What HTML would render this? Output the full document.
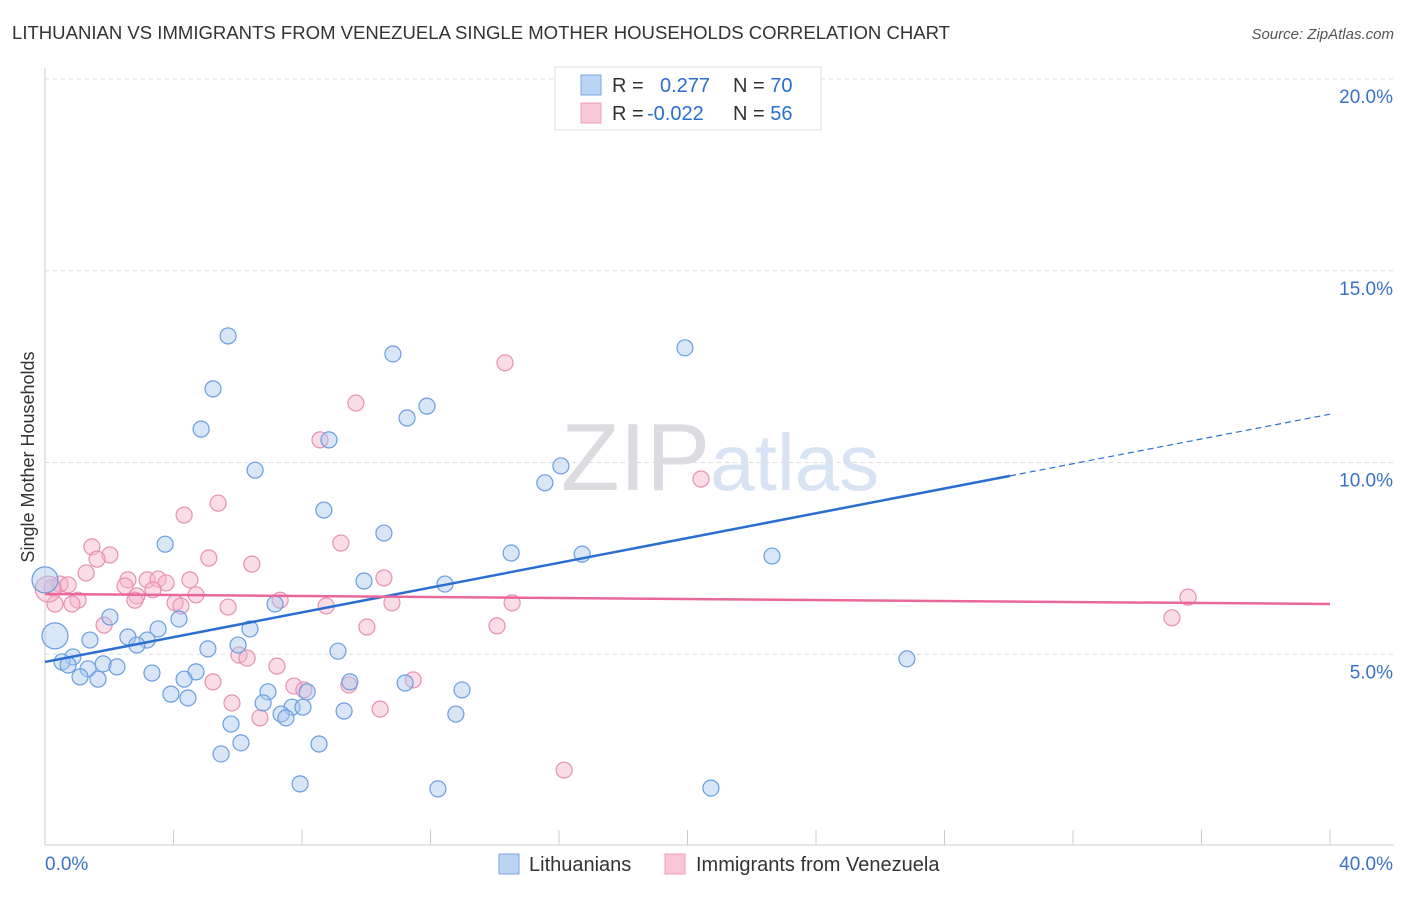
<!DOCTYPE html>
<html><head><meta charset="utf-8">
<style>
body{margin:0;background:#fff;font-family:"Liberation Sans",sans-serif;}
svg text{font-family:"Liberation Sans",sans-serif;}
</style></head>
<body>
<svg id="chart" width="1406" height="892" xmlns="http://www.w3.org/2000/svg">
<text x="12" y="39" font-size="18" fill="#333" textLength="938" lengthAdjust="spacingAndGlyphs">LITHUANIAN VS IMMIGRANTS FROM VENEZUELA SINGLE MOTHER HOUSEHOLDS CORRELATION CHART</text>
<text x="1394" y="39" font-size="15" fill="#555" text-anchor="end" font-style="italic">Source: ZipAtlas.com</text>
<text x="720" y="490" font-size="96" fill="#e8e8ec" text-anchor="middle" font-family="Liberation Serif"><tspan fill="#dcdce0">ZIP</tspan><tspan fill="#d8e4f4" font-family="Liberation Sans" font-size="80">atlas</tspan></text>
<g id="grid"></g>
<g id="axes"></g>
<g id="marks"></g>
<text transform="translate(34,457) rotate(-90)" font-size="18" fill="#333" text-anchor="middle">Single Mother Households</text>
<g>
<rect x="555" y="67" width="266" height="63" fill="#fff" stroke="#ddd"/>
<rect x="581" y="75" width="20" height="20" fill="#bcd4f4" stroke="#7aa6e0"/>
<rect x="581" y="103" width="20" height="20" fill="#f9c8d8" stroke="#ee9cb8"/>
<text x="612" y="92" font-size="20" fill="#333">R = <tspan fill="#2a6fd0" x="660">0.277</tspan><tspan fill="#333" x="733">N = </tspan><tspan fill="#2a6fd0">70</tspan></text>
<text x="612" y="120" font-size="20" fill="#333">R = <tspan fill="#2a6fd0" x="647">-0.022</tspan><tspan fill="#333" x="733">N = </tspan><tspan fill="#2a6fd0">56</tspan></text>
</g>
<g>
<rect x="499" y="854" width="20" height="20" fill="#bcd4f4" stroke="#7aa6e0"/>
<text x="529" y="871" font-size="20" fill="#333">Lithuanians</text>
<rect x="665" y="854" width="20" height="20" fill="#f9c8d8" stroke="#ee9cb8"/>
<text x="696" y="871" font-size="20" fill="#333">Immigrants from Venezuela</text>
</g>
</svg>
<script>
const xTicks=[0,5,10,15,20,25,30,35,40];
const yTicks=[5,10,15,20];
const yTickLabels=["5.0%","10.0%","15.0%","20.0%"];
const xTickLabels=["0.0%","40.0%"];
const blueX=[17.53,5.70,5.23,4.86,10.83,19.92,11.27,11.89,8.84,6.54,16.06,15.56,8.68,10.55,3.74,14.51,16.72,22.63,9.93,12.45,7.16,4.17,2.02,6.38,3.52,6.01,2.58,3.18,2.86,1.40,0.31,0.0,0.87,0.53,0.72,1.81,2.24,1.34,1.09,1.65,3.33,5.07,4.70,4.33,9.12,3.92,4.45,6.94,6.79,8.16,7.69,8.03,9.49,11.21,12.98,7.35,7.50,9.31,5.79,12.79,6.10,8.53,5.48,7.94,12.23,20.73,26.83];
const blueY=[19.97,13.30,11.92,10.87,12.83,12.99,11.16,11.47,10.59,9.80,9.91,9.47,8.76,8.16,7.87,7.64,7.61,7.56,6.91,6.83,6.31,5.92,5.97,5.66,5.66,5.24,5.45,5.37,5.24,5.37,5.48,6.94,4.93,4.80,4.72,4.75,4.67,4.62,4.41,4.35,4.51,5.14,4.54,4.35,5.08,3.96,3.86,4.02,3.73,4.02,3.62,3.62,4.28,4.25,4.07,3.44,3.34,3.52,3.18,3.44,2.69,2.66,2.40,1.62,1.49,1.51,4.88];
const pinkX=[14.32,9.68,8.56,20.42,5.39,4.33,9.21,1.46,2.02,5.10,6.44,1.62,1.28,10.55,2.58,3.18,3.52,3.77,4.51,2.49,3.36,0.47,0.72,0.22,2.86,4.70,1.03,2.80,4.05,4.23,7.32,0.31,0.84,5.70,8.75,10.80,14.54,35.58,35.08,1.84,10.02,14.07,6.04,6.29,7.22,5.23,7.75,8.06,9.46,11.46,5.82,10.43,6.69,16.16,0.1];
const pinkY=[12.60,11.55,10.59,9.57,8.94,8.63,7.90,7.80,7.59,7.51,7.35,7.48,7.12,6.99,6.94,6.94,6.96,6.86,6.94,6.78,6.68,6.83,6.81,6.73,6.52,6.55,6.41,6.41,6.34,6.26,6.41,6.31,6.31,6.23,6.26,6.34,6.34,6.49,5.95,5.76,5.71,5.74,4.98,4.90,4.69,4.28,4.17,4.07,4.20,4.33,3.73,3.57,3.34,1.98,6.7];
const blueBig=[30,31];
const pinkBig=[54];
const blueTrend=[4.80,11.26];
const blueSolidEnd=30.04;
const pinkTrend=[6.57,6.31];

const NS="http://www.w3.org/2000/svg";
const X0=45,X1=1330,Y0=846,YPER=38.35;
function sx(v){return X0+(X1-X0)*v/40;}
function sy(v){return Y0-v*YPER;}
function mk(tag,attrs,parent){const e=document.createElementNS(NS,tag);for(const k in attrs)e.setAttribute(k,attrs[k]);parent.appendChild(e);return e;}
const grid=document.getElementById('grid'),axes=document.getElementById('axes'),marks=document.getElementById('marks');
yTicks.forEach((t,i)=>{
 const l=mk('line',{x1:X0,x2:1394,y1:sy(t),y2:sy(t),stroke:'#ddd','stroke-dasharray':'4,4'},grid);
 
 
 const tx=mk('text',{x:1393,y:sy(t)+24,'font-size':19,fill:'#3a72c8','text-anchor':'end'},axes);
 tx.textContent=yTickLabels[i];
 
 
});
const ax=mk('line',{x1:X0,x2:X0,y1:68,y2:845,stroke:'#ccc'},axes);


const bx=mk('line',{x1:X0,x2:1394,y1:845,y2:845,stroke:'#ccc'},axes);


for(let i=0;i<=40;i+=4){
 const tk=mk('line',{x1:sx(i),x2:sx(i),y1:830,y2:845,stroke:'#ccc'},axes);
 
 
}
const xl0=mk('text',{x:45,y:870,'font-size':19,fill:'#3a72c8'},axes);xl0.textContent=xTickLabels[0];


const xl1=mk('text',{x:1393,y:870,'font-size':19,fill:'#3a72c8','text-anchor':'end'},axes);xl1.textContent=xTickLabels[1];



function dots(xs,ys,big,fill,stroke,name){
 xs.forEach((v,i)=>{
  const c=mk('circle',{cx:sx(v),cy:sy(ys[i]),r:big.includes(i)?13:8,fill:fill,'fill-opacity':0.45,stroke:stroke,'stroke-width':1.2},marks);
  
  
 });
}
dots(pinkX,pinkY,pinkBig,'#f6b4ca','#e890b0','point-venezuela');
dots(blueX,blueY,blueBig,'#a8c8f0','#6a9ee0','point-lithuanian');
function ty(tr,x){return tr[0]+(tr[1]-tr[0])*x/40;}
const b1=mk('line',{x1:sx(0),y1:sy(ty(blueTrend,0)),x2:sx(blueSolidEnd),y2:sy(ty(blueTrend,blueSolidEnd)),stroke:'#2a6fd0','stroke-width':2.5},marks);


const b2=mk('line',{x1:sx(blueSolidEnd),y1:sy(ty(blueTrend,blueSolidEnd)),x2:sx(40),y2:sy(ty(blueTrend,40)),stroke:'#2a6fd0','stroke-width':1.2,'stroke-dasharray':'6,4'},marks);


const p1=mk('line',{x1:sx(0),y1:sy(pinkTrend[0]),x2:sx(40),y2:sy(pinkTrend[1]),stroke:'#e8689a','stroke-width':2.5},marks);


</script>
</body></html>
